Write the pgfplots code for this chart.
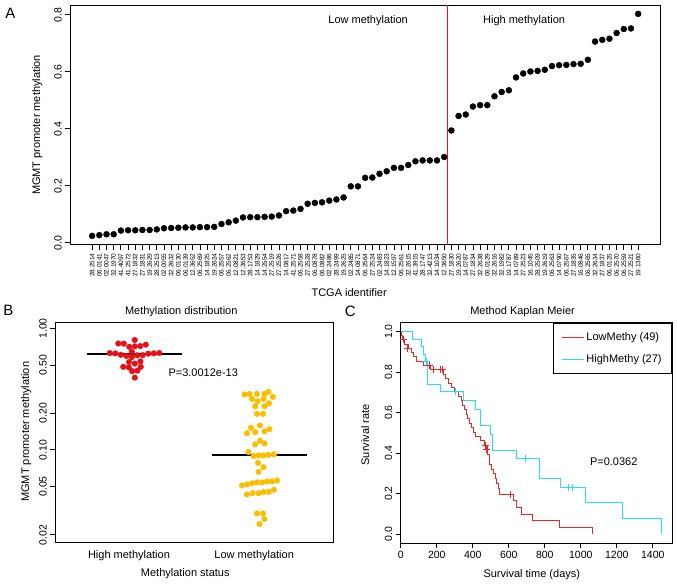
\documentclass[border=0pt]{standalone}
\usepackage{fontspec}
\setmainfont{Liberation Sans}
\usepackage{pgfplots}
\pgfplotsset{compat=1.18}
\definecolor{vred}{RGB}{235,20,25}
\definecolor{kmred}{RGB}{232,40,40}
\definecolor{kmcyan}{RGB}{40,222,232}
\definecolor{dotred}{RGB}{232,16,22}
\definecolor{dotgold}{RGB}{250,190,0}
\newcommand{\fs}[1]{\fontsize{#1}{#1}\selectfont}
\begin{document}
\begin{tikzpicture}[x=1pt,y=1pt]
\path (0,0) rectangle (677,585);
\pgfplotsset{every axis/.append style={scale only axis, anchor=south west,
  /pgf/number format/assume math mode=true,
  /pgf/number format/set thousands separator={},
  tick align=outside, tick pos=left,
  major tick length=5pt, axis line style={line width=0.8pt},
  every tick/.style={black, line width=0.8pt},
  ticklabel style={font=\fs{10.5}}}}
% ---------------- Panel A
\begin{axis}[at={(70pt,340pt)}, width=590pt, height=240pt,
  xmin=-3.04, xmax=79.04, ymin=-0.0072, ymax=0.8342,
  ytick={0,0.2,0.4,0.6,0.8}, yticklabels={0.0,0.2,0.4,0.6,0.8},
  yticklabel style={rotate=90, anchor=south},
  xtick={0,...,76},
  xticklabels={28.2514,06.0141,02.0047,32.1970,41.4097,41.2572,27.1832,27.1831,19.2629,28.2513,02.0055,32.2632,06.0130,06.0139,12.3652,06.2569,14.1825,19.2624,06.2557,06.2562,12.0821,12.3653,28.1753,14.1829,14.2554,27.2519,27.2526,14.0817,41.2571,06.2558,27.2528,06.0878,06.0882,02.2486,28.2499,19.2625,02.2485,14.0871,06.2564,27.2524,02.2483,14.1823,12.1597,06.2561,32.2615,41.3915,28.1747,32.4213,14.1034,12.3650,27.1830,19.2620,14.0787,27.1834,32.2638,06.0129,32.2616,32.1982,19.1787,14.0789,27.2523,16.1045,28.2509,19.2619,06.2563,14.0790,06.2567,27.1835,16.0846,06.2565,32.2634,27.1837,06.0125,06.2570,06.2559,27.2521,19.1360},
  xticklabel style={rotate=90, anchor=east, font=\fs{6.5}},
]
\addplot[vred, line width=1.3pt, mark=none, solid] table[row sep=\\] {x y \\ 49.5 -0.0072 \\ 49.5 0.8342 \\};
\addplot[only marks, mark=*, mark size=3pt, black] coordinates {
(0,0.0245)(1,0.027)(2,0.030)(3,0.030)(4,0.043)(5,0.044)(6,0.044)(7,0.045)(8,0.045)(9,0.047)
(10,0.051)(11,0.052)(12,0.053)(13,0.054)(14,0.054)(15,0.055)(16,0.055)(17,0.056)(18,0.066)(19,0.072)
(20,0.078)(21,0.089)(22,0.090)(23,0.090)(24,0.091)(25,0.092)(26,0.096)(27,0.111)(28,0.113)(29,0.119)
(30,0.137)(31,0.140)(32,0.142)(33,0.148)(34,0.152)(35,0.159)(36,0.198)(37,0.198)(38,0.228)(39,0.229)
(40,0.242)(41,0.251)(42,0.263)(43,0.263)(44,0.273)(45,0.286)(46,0.289)(47,0.289)(48,0.289)(49,0.301)
(50,0.394)(51,0.445)(52,0.450)(53,0.478)(54,0.483)(55,0.483)(56,0.514)(57,0.529)(58,0.535)(59,0.580)
(60,0.594)(61,0.601)(62,0.603)(63,0.607)(64,0.620)(65,0.623)(66,0.624)(67,0.627)(68,0.628)(69,0.642)
(70,0.706)(71,0.712)(72,0.716)(73,0.736)(74,0.750)(75,0.752)(76,0.803)};
\end{axis}
\node[font=\fs{15}] at (10,572) {A};
\node[font=\fs{11}] at (368,564) {Low methylation};
\node[font=\fs{11}] at (524,564) {High methylation};
\node[font=\fs{11}, rotate=90] at (37,460) {MGMT promoter methylation};
\node[font=\fs{11}] at (349,292) {TCGA identifier};
% ---------------- Panel B
\begin{axis}[at={(55pt,42.3pt)}, width=278pt, height=220.4pt,
  ymode=log, ymin=0.0173, ymax=1.127, xmin=55, xmax=333,
  ytick={0.02,0.05,0.1,0.2,0.5,1}, yticklabels={0.02,0.05,0.10,0.20,0.50,1.00},
  yticklabel style={rotate=90, anchor=south},
  xtick={128.7,254}, xticklabels={High methylation, Low methylation},
  xticklabel style={font=\fs{11}}, x tick style={draw=none},
]
\addplot[only marks, mark=*, mark size=2.8pt, dotred, mark options={draw=dotred}] coordinates {
(134.5,0.394)(131.8,0.445)(137.2,0.450)(128.5,0.478)(140.5,0.483)(123.0,0.483)(134.5,0.514)
(128.8,0.529)(140.2,0.535)(131.5,0.580)(126.0,0.594)(137.0,0.601)(142.5,0.603)(120.5,0.607)
(148.0,0.620)(115.0,0.623)(153.5,0.624)(109.5,0.627)(159.0,0.628)(131.5,0.642)(129.0,0.706)
(134.5,0.712)(140.0,0.716)(145.5,0.736)(123.5,0.750)(118.0,0.752)(134.5,0.803)};
\addplot[only marks, mark=*, mark size=2.8pt, dotgold, mark options={draw=dotgold}] coordinates {
(259.3,0.0245)(264.3,0.027)(256.8,0.030)(262.8,0.030)(246.8,0.043)(252.3,0.044)(258.3,0.044)
(263.3,0.045)(268.6,0.045)(273.8,0.047)(241.8,0.051)(246.8,0.052)(251.8,0.053)(256.8,0.054)
(261.8,0.054)(266.8,0.055)(271.8,0.055)(276.8,0.056)(258.3,0.066)(263.3,0.072)(257.8,0.078)
(253.3,0.089)(258.3,0.090)(263.3,0.090)(268.3,0.091)(273.8,0.092)(248.3,0.096)(255.0,0.111)
(264.3,0.113)(259.8,0.119)(246.8,0.137)(255.0,0.140)(264.3,0.142)(269.3,0.148)(250.8,0.152)
(259.8,0.159)(256.8,0.198)(262.8,0.198)(255.0,0.228)(264.3,0.229)(268.8,0.242)(257.3,0.251)
(251.8,0.263)(263.3,0.263)(272.7,0.273)(244.3,0.286)(249.3,0.289)(256.7,0.289)(264.3,0.289)
(268.3,0.301)};
\addplot[black, line width=2pt] coordinates {(87,0.62) (182,0.62)};
\addplot[black, line width=2pt] coordinates {(212,0.0915) (307,0.0915)};
\end{axis}
\node[font=\fs{15}] at (8,274) {B};
\node[font=\fs{11}] at (181,273.3) {Methylation distribution};
\node[font=\fs{11}, rotate=90] at (26,153) {MGMT promoter methylation};
\node[font=\fs{11}] at (185,11) {Methylation status};
\node[font=\fs{11}] at (203,212.3) {P=3.0012e-13};
% ---------------- Panel C
\begin{axis}[at={(400.7pt,41.7pt)}, width=271.3pt, height=220.6pt,
  xmin=0, xmax=1507, ymin=-0.0444, ymax=1.0444,
  xtick={0,200,...,1400}, ytick={0,0.2,...,1.0},
  yticklabels={0.0,0.2,0.4,0.6,0.8,1.0},
  yticklabel style={rotate=90, anchor=south},
  legend style={at={(1,1)}, anchor=north east, draw=black, line width=0.8pt,
    font=\fs{11}, inner xsep=8pt, inner ysep=8pt, row sep=8pt, cells={anchor=west}},
  legend image code/.code={\draw[#1, line width=0.9pt] (0pt,0pt) -- (22pt,0pt);},
]
\addplot[draw=kmred, line width=0.9pt, const plot mark left] coordinates {
(0,1)(3,0.98)(8,0.959)(22,0.938)(45,0.917)(60,0.896)(72,0.875)(88,0.854)(126,0.833)(167,0.812)
(238,0.790)(248,0.768)(262,0.746)(282,0.724)(300,0.702)(318,0.680)(335,0.658)(345,0.636)(355,0.614)
(365,0.592)(372,0.570)(380,0.548)(392,0.526)(402,0.504)(412,0.482)(440,0.460)(462,0.438)(482,0.395)
(490,0.370)(495,0.345)(505,0.320)(515,0.300)(525,0.275)(530,0.250)(540,0.225)(548,0.197)(625,0.164)
(640,0.131)(672,0.098)(733,0.066)(881,0.033)(1065,0)};
\addlegendentry{LowMethy (49)}
\addplot[draw=kmcyan, line width=0.9pt, const plot mark left] coordinates {
(0,1)(67,0.963)(117,0.926)(128,0.889)(138,0.852)(150,0.741)(218,0.704)(348,0.658)(413,0.614)
(441,0.535)(496,0.494)(511,0.411)(644,0.372)(769,0.276)(885,0.232)(1028,0.156)(1233,0.079)(1450,0)};
\addlegendentry{HighMethy (27)}
\addplot[only marks, mark=+, mark size=3.5pt, draw=kmred, line width=0.8pt, forget plot] coordinates {
(12,0.959)(38,0.918)(160,0.833)(182,0.812)(222,0.812)(230,0.812)(468,0.438)(476,0.417)(610,0.197)};
\addplot[only marks, mark=+, mark size=3.5pt, draw=kmcyan, line width=0.8pt, forget plot] coordinates {
(141,0.852)(302,0.704)(691,0.372)(931,0.232)(954,0.232)};
\end{axis}
\node[font=\fs{15}] at (350,274) {C};
\node[font=\fs{11}] at (522.5,273.3) {Method Kaplan Meier};
\node[font=\fs{11}, rotate=90] at (365,150) {Survival rate};
\node[font=\fs{11}] at (531.7,10) {Survival time (days)};
\node[font=\fs{11}] at (613.7,122.7) {P=0.0362};
\end{tikzpicture}
\end{document}
